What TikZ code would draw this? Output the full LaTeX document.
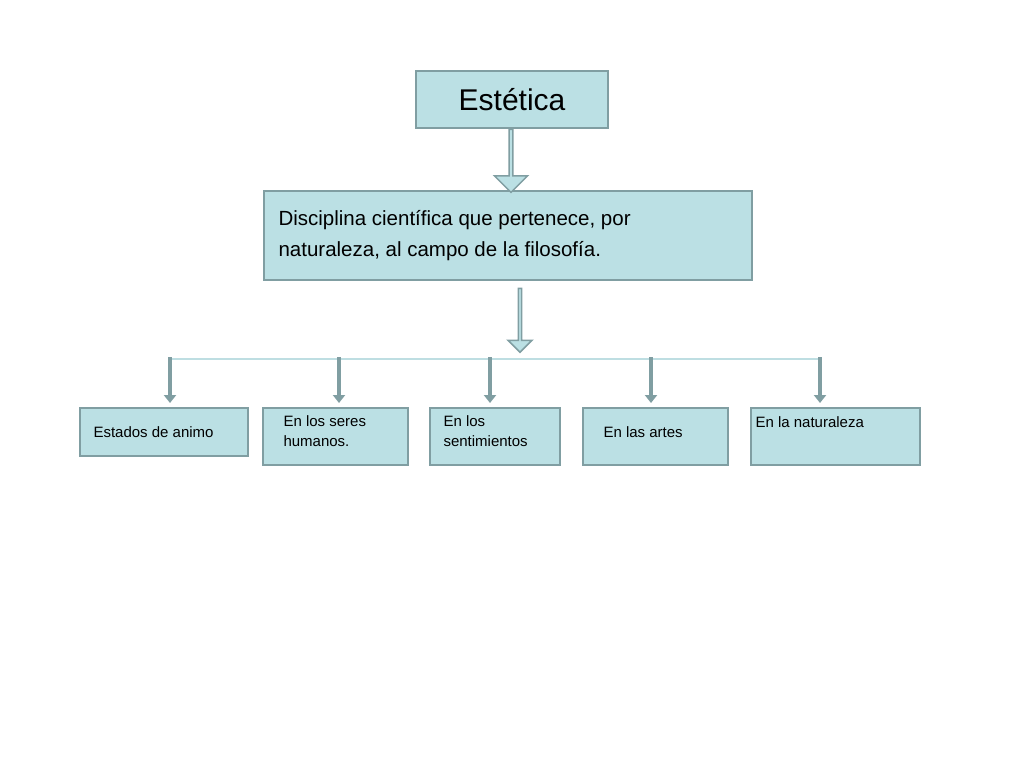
\documentclass[tikz,border=0pt]{standalone}
\usepackage{fontspec}
\setmainfont{Liberation Sans}
\usetikzlibrary{positioning,calc,shapes.arrows,arrows.meta}
\definecolor{boxfill}{RGB}{187,224,228}
\definecolor{boxline}{RGB}{128,158,162}
\definecolor{hline}{RGB}{190,222,226}
\tikzset{
	box/.style={draw=boxline, line width=2pt, fill=boxfill, inner sep=0pt},
	bigarrow/.style={single arrow, draw=boxline, line width=1.5pt, fill=boxfill,
		single arrow head extend=6pt, minimum width=33pt, inner sep=0pt, rotate=-90,
		single arrow tip angle=90},
	smallarrow/.style={draw=boxline, line width=3.5pt, -{Triangle[length=8pt,width=12pt]}},
}
\begin{document}
\begin{tikzpicture}[x=1pt,y=-1pt]
	\useasboundingbox (0,0) rectangle (1024,768);
	\fill[white] (0,0) rectangle (1024,768);

	% main boxes
	\node[box, minimum width=192pt, minimum height=57pt, font=\fontsize{30}{34}\selectfont]
		(est) at (512,99.5) {Estética};
	\node[box, minimum width=488pt, minimum height=89pt] (dis) at (508,235.5) {};
	\node[anchor=west, align=left, font=\fontsize{20.5}{31}\selectfont] (distext) at (275,236)
		{Disciplina científica que pertenece, por\\naturaleza, al campo de la filosofía.};

	% block arrows
	\node[bigarrow, minimum height=63pt] (a1) at (511,160) {};
	\node[bigarrow, minimum height=64pt, minimum width=24pt, single arrow head extend=5pt] (a2) at (520,319.5) {};

	% branch line
	\coordinate (hl) at (170,359);
	\coordinate (hr) at (820,359);
	\draw[hline, line width=1.5pt] (hl) -- (hr);

	% leaf boxes
	\tikzset{leaf/.style={box, minimum height=57pt, font=\fontsize{15}{20}\selectfont, align=left}}
	\node[leaf, minimum width=168pt, minimum height=48pt] (l1) at (164,432) {};
	\node[leaf, minimum width=145pt] (l2) at (335.5,436) {};
	\node[leaf, minimum width=130pt] (l3) at (495,436) {};
	\node[leaf, minimum width=145pt] (l4) at (655.5,436) {};
	\node[leaf, minimum width=169pt] (l5) at (835.5,436) {};

	\node[anchor=west, font=\fontsize{15}{20}\selectfont] (t1) at (90,432) {Estados de animo};
	\node[anchor=north west, align=left, font=\fontsize{15}{20}\selectfont] (t2) at (280,412) {En los seres\\humanos.};
	\node[anchor=north west, align=left, font=\fontsize{15}{20}\selectfont] (t3) at (440,412) {En los\\sentimientos};
	\node[anchor=west, font=\fontsize{15}{20}\selectfont] (t4) at (600,432) {En las artes};
	\node[anchor=north west, font=\fontsize{15}{20}\selectfont] (t5) at (752,413) {En la naturaleza};

	% small arrows
	\foreach \x/\n in {170/1,339/2,490/3,651/4,820/5}{
		\coordinate (s\n) at (\x,357);
		\coordinate (e\n) at (\x,403);
		\draw[smallarrow] (s\n) -- (e\n);
	}
\end{tikzpicture}
\end{document}
